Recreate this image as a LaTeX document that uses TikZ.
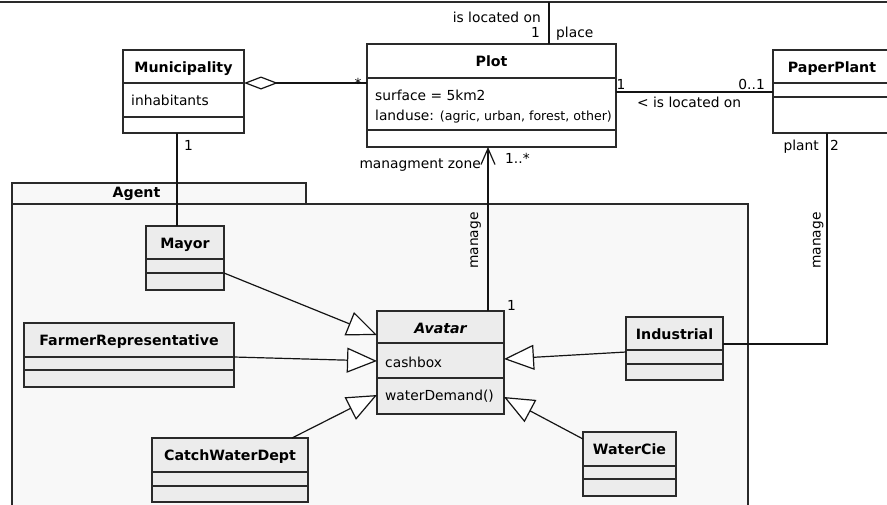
\documentclass[tikz,border=0pt]{standalone}
\usepackage{fontspec}
\setmainfont{DejaVu Sans}
\usetikzlibrary{arrows.meta,calc}
\definecolor{pkgfill}{HTML}{F8F8F8}
\definecolor{innerfill}{HTML}{ECECEC}
\definecolor{edge}{HTML}{2A2A2A}
\tikzset{
  cls/.style={draw=edge, line width=1.3pt, inner sep=0pt, outer sep=0pt},
  ttl/.style={font=\fontsize{14.2}{16}\selectfont\bfseries, anchor=base, inner sep=0pt},
  attr/.style={font=\fontsize{13.8}{16}\selectfont, anchor=base west, inner sep=0pt},
  lbl/.style={font=\fontsize{13.8}{16}\selectfont, inner sep=0pt},
  conn/.style={draw=black!92, line width=1.2pt},
  gen/.style={conn, -{Triangle[length=30pt,width=25pt,fill=white]}},
  divl/.style={draw=edge, line width=1.2pt},
}
\newcommand\cdiv[2]{\draw[divl] ($(#1.north west)+(0,#2)$) -- ($(#1.north east)+(0,#2)$);}
\begin{document}
\begin{tikzpicture}[x=1pt,y=-1pt]
\useasboundingbox (0,0) rectangle (887,504);
\clip (0,0) rectangle (887,504);

% clipped class box at the top
\node[cls, fill=white, line width=1.6pt, minimum width=920pt, minimum height=40pt, anchor=south] (top) at (443.5,2.2) {};

% package Agent
\node[cls, fill=pkgfill, minimum width=294pt, minimum height=21pt, anchor=north west] (tab) at (12,183) {};
\node[cls, fill=pkgfill, minimum width=736pt, minimum height=330pt, anchor=north west] (pkg) at (12,204) {};
\node[ttl] at (136.5,197.5) {Agent};

% Plot
\node[cls, fill=white, minimum width=249pt, minimum height=103pt] (plot) at (491.5,95.5) {};
\cdiv{plot}{34}\cdiv{plot}{86}
\node[ttl] at ($(plot.north)+(0,22.5)$) {Plot};
\node[attr] at (375,100) {surface = 5km2};
\node[attr] at (375,120) {landuse: {\fontsize{12.6}{14}\selectfont(agric, urban, forest, other)}};

% Municipality
\node[cls, fill=white, minimum width=121pt, minimum height=83pt] (mun) at (183.5,91.5) {};
\cdiv{mun}{33}\cdiv{mun}{67}
\node[ttl] at ($(mun.north)+(0,22.5)$) {Municipality};
\node[attr] at (131,105) {inhabitants};

% PaperPlant
\node[cls, fill=white, minimum width=118pt, minimum height=83pt] (pp) at (832,91.5) {};
\cdiv{pp}{33}\cdiv{pp}{47}
\node[ttl] at ($(pp.north)+(0,22.5)$) {PaperPlant};

% Mayor
\node[cls, fill=innerfill, minimum width=78pt, minimum height=64pt] (mayor) at (185,258) {};
\cdiv{mayor}{33}\cdiv{mayor}{47}
\node[ttl] at ($(mayor.north)+(0,22.5)$) {Mayor};

% Avatar
\node[cls, fill=innerfill, minimum width=127pt, minimum height=103pt] (avatar) at (440.5,362.5) {};
\cdiv{avatar}{32}\cdiv{avatar}{67}
\node[ttl, font=\fontsize{14.2}{16}\selectfont\bfseries\itshape] at ($(avatar.north)+(0,22.5)$) {Avatar};
\node[attr] at (385,367) {cashbox};
\node[attr] at (385,400) {waterDemand()};

% FarmerRepresentative
\node[cls, fill=innerfill, minimum width=210pt, minimum height=64pt] (fr) at (129,355) {};
\cdiv{fr}{34}\cdiv{fr}{47}
\node[ttl] at ($(fr.north)+(0,22.5)$) {FarmerRepresentative};

% CatchWaterDept
\node[cls, fill=innerfill, minimum width=156pt, minimum height=64pt] (cwd) at (230,470) {};
\cdiv{cwd}{34}\cdiv{cwd}{48}
\node[ttl] at ($(cwd.north)+(0,22.5)$) {CatchWaterDept};

% Industrial
\node[cls, fill=innerfill, minimum width=97pt, minimum height=63pt] (ind) at (674.5,348.5) {};
\cdiv{ind}{33}\cdiv{ind}{47}
\node[ttl] at ($(ind.north)+(0,22.5)$) {Industrial};

% WaterCie
\node[cls, fill=innerfill, minimum width=93pt, minimum height=64pt] (wc) at (629.5,464) {};
\cdiv{wc}{34}\cdiv{wc}{47}
\node[ttl] at ($(wc.north)+(0,22.5)$) {WaterCie};

% connectors
\draw[conn] ($(plot.north west)+(182,0)$) coordinate (pn) -- (pn |- top.south);
\draw[conn, {Diamond[fill=white,length=34pt,width=13pt]}-] ($(mun.north east)+(0,33)$) -- ($(plot.north west)+(0,39)$);
\draw[conn] ($(plot.north east)+(0,48)$) -- ($(pp.north west)+(0,42)$);
\draw[conn] ($(pp.south west)+(54,0)$) |- ($(ind.north east)+(0,27)$);
\draw[conn] ($(mun.south west)+(54,0)$) coordinate (ms) -- (ms |- mayor.north);
\draw[conn, -{Straight Barb[length=16pt,width=14pt]}] ($(avatar.north west)+(111,0)$) coordinate (an) -- (an |- plot.south);

\draw[gen] ($(mayor.north east)+(0,47)$) -- ($(avatar.north west)+(0,24)$);
\draw[gen] ($(fr.north east)+(0,34)$) -- ($(avatar.north west)+(0,50)$);
\draw[gen] ($(cwd.north west)+(140,0)$) -- ($(avatar.north west)+(0,84)$);
\draw[gen] ($(ind.north west)+(0,35)$) -- ($(avatar.north east)+(0,48)$);
\draw[gen] ($(wc.north west)+(0,7)$) -- ($(avatar.north east)+(0,86)$);

% labels
\node[lbl, anchor=base east] at (541,22) {is located on};
\node[lbl, anchor=base east] at (540,37) {1};
\node[lbl, anchor=base west] at (556,37) {place};
\node[lbl, anchor=base] at (358,88.5) {*};
\node[lbl, anchor=base west] at (616.5,89) {1};
\node[lbl, anchor=base east] at (765,89) {0..1};
\node[lbl, anchor=base west] at (637,107) {< is located on};
\node[lbl, anchor=base east] at (819,150) {plant};
\node[lbl, anchor=base west] at (830,150) {2};
\node[lbl, anchor=base, rotate=90] at (820.5,240.5) {manage};
\node[lbl, anchor=base, rotate=90] at (478,240.5) {manage};
\node[lbl, anchor=base east] at (481,168) {managment zone};
\node[lbl, anchor=base west] at (505,163) {1..*};
\node[lbl, anchor=base west] at (507,310) {1};
\node[lbl, anchor=base west] at (184,150) {1};
\end{tikzpicture}
\end{document}
